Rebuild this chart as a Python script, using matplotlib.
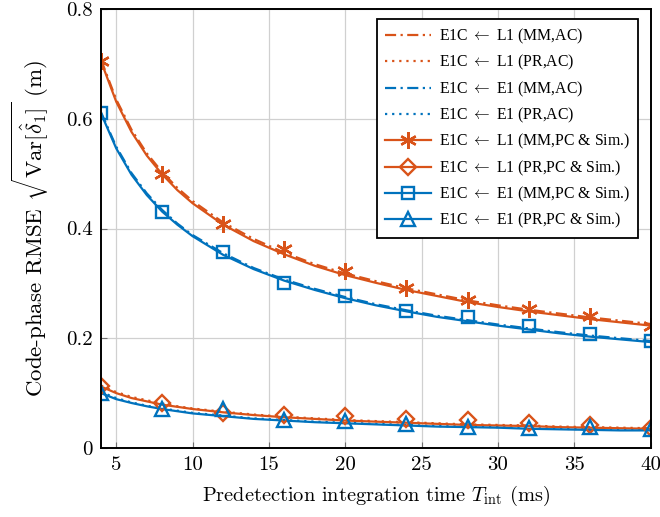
#!/usr/bin/env python3
# Code-phase RMSE vs predetection integration time
import numpy as np
import matplotlib.pyplot as plt
from matplotlib.lines import Line2D

plt.rcParams['font.family'] = ['cmr10', 'DejaVu Serif']
plt.rcParams['mathtext.fontset'] = 'cm'
plt.rcParams['axes.formatter.use_mathtext'] = True

orange = '#D95319'
blue = '#0072BD'

# theory curves
t_th = [4, 5, 6, 7, 8, 9, 10, 12, 14, 16, 18, 20, 22, 24, 26, 28, 30, 32, 34, 36, 38, 40]
l1_mm_pc = [0.705, 0.631, 0.576, 0.533, 0.499, 0.470, 0.446, 0.407, 0.377, 0.353, 0.332,
            0.315, 0.301, 0.288, 0.277, 0.266, 0.257, 0.249, 0.242, 0.235, 0.229, 0.223]
l1_mm_ac = [0.708, 0.635, 0.580, 0.537, 0.503, 0.474, 0.450, 0.411, 0.381, 0.356, 0.335,
            0.318, 0.304, 0.291, 0.280, 0.269, 0.260, 0.252, 0.245, 0.238, 0.232, 0.226]
e1_mm_pc = [0.610, 0.546, 0.498, 0.461, 0.431, 0.407, 0.386, 0.352, 0.326, 0.305, 0.288,
            0.273, 0.260, 0.249, 0.239, 0.231, 0.223, 0.216, 0.209, 0.203, 0.198, 0.193]
e1_mm_ac = [0.612, 0.549, 0.501, 0.464, 0.434, 0.409, 0.388, 0.355, 0.328, 0.307, 0.290,
            0.275, 0.262, 0.251, 0.241, 0.233, 0.225, 0.218, 0.211, 0.205, 0.200, 0.195]
l1_pr_pc = [0.112, 0.100, 0.091, 0.085, 0.079, 0.075, 0.071, 0.065, 0.060, 0.056, 0.053,
            0.050, 0.048, 0.046, 0.044, 0.042, 0.041, 0.040, 0.038, 0.037, 0.036, 0.035]
l1_pr_ac = [0.114, 0.102, 0.093, 0.087, 0.081, 0.076, 0.072, 0.066, 0.061, 0.057, 0.054,
            0.051, 0.049, 0.047, 0.045, 0.043, 0.042, 0.041, 0.039, 0.038, 0.037, 0.036]
e1_pr_pc = [0.100, 0.089, 0.082, 0.076, 0.071, 0.067, 0.063, 0.058, 0.053, 0.050, 0.047,
            0.045, 0.043, 0.041, 0.039, 0.038, 0.037, 0.035, 0.034, 0.033, 0.032, 0.032]
e1_pr_ac = [0.102, 0.091, 0.083, 0.077, 0.072, 0.068, 0.064, 0.059, 0.054, 0.051, 0.048,
            0.046, 0.044, 0.042, 0.040, 0.039, 0.038, 0.036, 0.035, 0.034, 0.033, 0.033]

# simulation points
t_sim = [4, 8, 12, 16, 20, 24, 28, 32, 36, 40]
l1_mm_sim = [0.705, 0.500, 0.408, 0.363, 0.322, 0.292, 0.270, 0.253, 0.240, 0.222]
l1_pr_sim = [0.113, 0.082, 0.064, 0.060, 0.058, 0.053, 0.051, 0.046, 0.042, 0.037]
e1_mm_sim = [0.610, 0.430, 0.358, 0.300, 0.277, 0.250, 0.238, 0.222, 0.208, 0.195]
e1_pr_sim = [0.101, 0.071, 0.071, 0.051, 0.049, 0.044, 0.039, 0.037, 0.039, 0.035]

labels = [r'E1C $\leftarrow$ L1 (MM,AC)', r'E1C $\leftarrow$ L1 (PR,AC)',
          r'E1C $\leftarrow$ E1 (MM,AC)', r'E1C $\leftarrow$ E1 (PR,AC)',
          r'E1C $\leftarrow$ L1 (MM,PC & Sim.)', r'E1C $\leftarrow$ L1 (PR,PC & Sim.)',
          r'E1C $\leftarrow$ E1 (MM,PC & Sim.)', r'E1C $\leftarrow$ E1 (PR,PC & Sim.)']

fig = plt.figure(figsize=(6.6, 5.17), dpi=100)
ax = fig.add_axes([0.153, 0.1335, 0.833, 0.849])

lw = 1.6
dashdot = (0, (5, 2, 1, 2))
dotted = (0, (1, 2.2))

ax.plot(t_th, l1_mm_ac, color=orange, lw=lw, ls=dashdot)
ax.plot(t_th, l1_pr_ac, color=orange, lw=lw, ls=dotted)
ax.plot(t_th, e1_mm_ac, color=blue, lw=lw, ls=dashdot)
ax.plot(t_th, e1_pr_ac, color=blue, lw=lw, ls=dotted)
ax.plot(t_th, l1_mm_pc, color=orange, lw=lw)
ax.plot(t_th, l1_pr_pc, color=orange, lw=lw)
ax.plot(t_th, e1_mm_pc, color=blue, lw=lw)
ax.plot(t_th, e1_pr_pc, color=blue, lw=lw)

star = (6, 2, 0)
styles = [(star, 12), ('D', 8.5), ('s', 8.5), ('^', 10)]
sims = [(l1_mm_sim, orange), (l1_pr_sim, orange), (e1_mm_sim, blue), (e1_pr_sim, blue)]
for (m, s), (y, c) in zip(styles, sims):
    ax.plot(t_sim, y, ls='none', marker=m, ms=s, mfc='none', mew=1.7, color=c)

handles = [
    Line2D([], [], color=orange, lw=lw, ls=dashdot),
    Line2D([], [], color=orange, lw=lw, ls=dotted),
    Line2D([], [], color=blue, lw=lw, ls=dashdot),
    Line2D([], [], color=blue, lw=lw, ls=dotted),
]
for (m, s), (y, c) in zip(styles, sims):
    handles.append(Line2D([], [], color=c, lw=lw, marker=m, ms=s, mfc='none', mew=1.7))

leg = ax.legend(handles, labels, loc='upper right', bbox_to_anchor=(0.976, 0.977),
                borderaxespad=0, prop={'family': ['Liberation Serif', 'DejaVu Serif'], 'size': 11.3},
                handlelength=2.9, handletextpad=0.5, labelspacing=0.45, fancybox=False,
                framealpha=1, edgecolor='black', borderpad=0.5)
leg.get_frame().set_linewidth(1.3)

ax.set_xlim(4, 40)
ax.set_ylim(0, 0.8)
ax.set_xticks([5, 10, 15, 20, 25, 30, 35, 40])
ax.set_yticks([0, 0.2, 0.4, 0.6, 0.8])
ax.set_xticklabels(['5', '10', '15', '20', '25', '30', '35', '40'])
ax.set_yticklabels(['0', '0.2', '0.4', '0.6', '0.8'])
ax.grid(True, color='#d0d0d0', lw=0.9)
ax.set_axisbelow(True)
ax.tick_params(direction='in', labelsize=15, length=4, color='#707070')
ax.tick_params(axis='x', pad=6)
ax.tick_params(axis='y', pad=6)
for s in ax.spines.values():
    s.set_linewidth(1.4)

ax.set_xlabel(r'Predetection integration time $T_{\mathrm{int}}$ (ms)', fontsize=14.7, labelpad=7)
ax.set_ylabel(r'Code-phase RMSE $\sqrt{\mathrm{Var}[\hat{\delta}_1]}$ (m)', fontsize=16.5, labelpad=11)

fig.savefig('out.png', dpi=100)
